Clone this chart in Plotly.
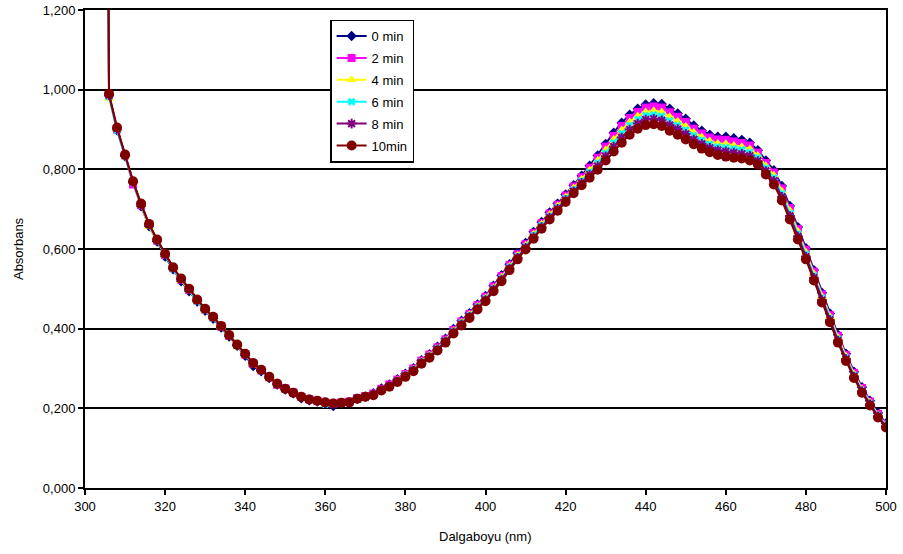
import plotly.graph_objects as go

wavelength = [304] + list(range(306, 502, 2))

min0 = [5.0,
    0.985, 0.898, 0.833, 0.766, 0.707, 0.657, 0.619, 0.581, 0.549, 0.519,
    0.494, 0.468, 0.445, 0.425, 0.403, 0.380, 0.357, 0.332, 0.306, 0.293,
    0.276, 0.260, 0.247, 0.238, 0.225, 0.220, 0.217, 0.213, 0.206, 0.213,
    0.215, 0.224, 0.230, 0.238, 0.250, 0.260, 0.273, 0.287, 0.301, 0.321,
    0.336, 0.355, 0.375, 0.399, 0.420, 0.439, 0.461, 0.482, 0.508, 0.534,
    0.562, 0.590, 0.615, 0.643, 0.668, 0.692, 0.714, 0.737, 0.760, 0.784,
    0.809, 0.835, 0.864, 0.892, 0.917, 0.937, 0.952, 0.963, 0.966, 0.964,
    0.952, 0.940, 0.927, 0.910, 0.897, 0.887, 0.882, 0.882, 0.878, 0.874,
    0.867, 0.848, 0.822, 0.798, 0.758, 0.708, 0.655, 0.602, 0.547, 0.490,
    0.438, 0.385, 0.337, 0.292, 0.253, 0.219, 0.188, 0.162]

min2 = [5.0,
    0.986, 0.900, 0.835, 0.762, 0.710, 0.661, 0.621, 0.585, 0.552, 0.523,
    0.497, 0.471, 0.448, 0.428, 0.405, 0.382, 0.359, 0.335, 0.312, 0.295,
    0.278, 0.259, 0.250, 0.240, 0.229, 0.223, 0.219, 0.213, 0.212, 0.215,
    0.217, 0.226, 0.231, 0.237, 0.249, 0.260, 0.272, 0.286, 0.300, 0.320,
    0.335, 0.353, 0.373, 0.397, 0.418, 0.437, 0.459, 0.480, 0.506, 0.532,
    0.560, 0.587, 0.612, 0.640, 0.665, 0.689, 0.711, 0.734, 0.757, 0.780,
    0.804, 0.829, 0.857, 0.884, 0.909, 0.929, 0.944, 0.955, 0.958, 0.955,
    0.943, 0.932, 0.919, 0.902, 0.890, 0.880, 0.875, 0.874, 0.870, 0.866,
    0.860, 0.842, 0.816, 0.792, 0.752, 0.703, 0.650, 0.598, 0.543, 0.486,
    0.434, 0.382, 0.334, 0.289, 0.251, 0.217, 0.186, 0.160]

min4 = [5.0,
    0.978, 0.901, 0.832, 0.768, 0.709, 0.656, 0.620, 0.584, 0.551, 0.521,
    0.496, 0.470, 0.446, 0.427, 0.404, 0.381, 0.356, 0.334, 0.311, 0.292,
    0.277, 0.261, 0.249, 0.241, 0.230, 0.224, 0.220, 0.209, 0.213, 0.216,
    0.218, 0.226, 0.231, 0.236, 0.248, 0.258, 0.271, 0.284, 0.298, 0.318,
    0.333, 0.351, 0.371, 0.395, 0.416, 0.435, 0.456, 0.477, 0.503, 0.529,
    0.557, 0.584, 0.609, 0.637, 0.662, 0.686, 0.708, 0.730, 0.753, 0.775,
    0.798, 0.822, 0.849, 0.875, 0.899, 0.919, 0.934, 0.944, 0.947, 0.944,
    0.932, 0.921, 0.908, 0.893, 0.881, 0.871, 0.865, 0.864, 0.860, 0.857,
    0.851, 0.835, 0.809, 0.785, 0.745, 0.696, 0.644, 0.592, 0.538, 0.481,
    0.430, 0.378, 0.331, 0.286, 0.248, 0.215, 0.184, 0.158]

min6 = [5.0,
    0.982, 0.899, 0.834, 0.767, 0.711, 0.660, 0.622, 0.586, 0.550, 0.524,
    0.498, 0.469, 0.447, 0.426, 0.406, 0.383, 0.358, 0.336, 0.313, 0.294,
    0.278, 0.261, 0.248, 0.239, 0.228, 0.222, 0.218, 0.210, 0.211, 0.214,
    0.216, 0.225, 0.230, 0.235, 0.247, 0.257, 0.269, 0.283, 0.297, 0.316,
    0.331, 0.350, 0.370, 0.393, 0.414, 0.433, 0.454, 0.475, 0.500, 0.526,
    0.554, 0.581, 0.606, 0.634, 0.659, 0.682, 0.704, 0.727, 0.749, 0.771,
    0.793, 0.816, 0.841, 0.867, 0.890, 0.910, 0.925, 0.935, 0.937, 0.934,
    0.922, 0.911, 0.899, 0.885, 0.873, 0.863, 0.857, 0.855, 0.852, 0.849,
    0.843, 0.829, 0.803, 0.779, 0.739, 0.690, 0.638, 0.587, 0.533, 0.477,
    0.426, 0.374, 0.327, 0.283, 0.245, 0.213, 0.182, 0.157]

min8 = [5.0,
    0.986, 0.903, 0.836, 0.769, 0.712, 0.662, 0.623, 0.587, 0.553, 0.525,
    0.499, 0.472, 0.449, 0.429, 0.406, 0.383, 0.359, 0.336, 0.313, 0.296,
    0.279, 0.262, 0.249, 0.239, 0.229, 0.222, 0.219, 0.214, 0.212, 0.214,
    0.215, 0.224, 0.229, 0.234, 0.246, 0.256, 0.268, 0.281, 0.295, 0.314,
    0.329, 0.348, 0.368, 0.391, 0.411, 0.430, 0.451, 0.472, 0.498, 0.523,
    0.551, 0.578, 0.603, 0.630, 0.655, 0.679, 0.701, 0.723, 0.745, 0.766,
    0.787, 0.808, 0.833, 0.857, 0.880, 0.900, 0.915, 0.925, 0.927, 0.923,
    0.911, 0.901, 0.889, 0.875, 0.864, 0.854, 0.848, 0.845, 0.842, 0.839,
    0.834, 0.821, 0.796, 0.771, 0.731, 0.683, 0.632, 0.581, 0.528, 0.472,
    0.422, 0.370, 0.324, 0.280, 0.243, 0.210, 0.180, 0.155]

min10 = [5.0,
    0.990, 0.905, 0.837, 0.770, 0.714, 0.663, 0.624, 0.588, 0.554, 0.526,
    0.500, 0.473, 0.450, 0.430, 0.407, 0.384, 0.360, 0.337, 0.314, 0.297,
    0.279, 0.262, 0.249, 0.239, 0.229, 0.222, 0.219, 0.215, 0.212, 0.214,
    0.215, 0.224, 0.229, 0.233, 0.245, 0.254, 0.266, 0.279, 0.293, 0.312,
    0.327, 0.345, 0.365, 0.388, 0.408, 0.427, 0.448, 0.469, 0.494, 0.519,
    0.547, 0.574, 0.599, 0.626, 0.651, 0.674, 0.696, 0.718, 0.740, 0.760,
    0.779, 0.799, 0.822, 0.845, 0.867, 0.887, 0.902, 0.911, 0.913, 0.909,
    0.897, 0.887, 0.875, 0.863, 0.852, 0.843, 0.836, 0.832, 0.829, 0.827,
    0.822, 0.812, 0.787, 0.762, 0.722, 0.674, 0.624, 0.574, 0.521, 0.466,
    0.416, 0.365, 0.319, 0.276, 0.239, 0.207, 0.177, 0.152]

series_names = ["0 min", "2 min", "4 min", "6 min", "8 min", "10min"]
series_values = [min0, min2, min4, min6, min8, min10]
colors = ["#000080", "#FF00FF", "#FFFF00", "#00FFFF", "#800080", "#800000"]
symbols = ["diamond", "square", "triangle-up", "x", "asterisk-open", "circle"]
sizes = [8, 8, 9, 7, 8, 10]

yticks = [0, 0.2, 0.4, 0.6, 0.8, 1.0, 1.2]
xticks = [300, 320, 340, 360, 380, 400, 420, 440, 460, 480, 500]

fig = go.Figure()
for i, (name, vals, c, s, sz) in enumerate(zip(series_names, series_values, colors, symbols, sizes)):
    marker = dict(color=c, symbol=s, size=sz, line=dict(width=0, color=c))
    if s == "asterisk-open":
        marker["line"] = dict(width=2, color=c)
    fig.add_trace(go.Scatter(
        x=wavelength, y=vals, name=name, mode="lines+markers",
        legendgroup=f"g{i}",
        line=dict(color=c, width=2), marker=marker,
    ))

font_family = "Liberation Sans, Arial, sans-serif"
fig.update_layout(
    width=903, height=554,
    margin=dict(l=85, r=17, t=10, b=66, autoexpand=False),
    paper_bgcolor="white", plot_bgcolor="white",
    separators=",.",
    font=dict(family=font_family, size=13, color="black"),
    showlegend=True,
    legend=dict(x=0.306, y=0.98, xanchor="left", yanchor="top",
                bgcolor="white", bordercolor="black", borderwidth=1.5,
                font=dict(size=13), tracegroupgap=2),
    xaxis=dict(range=[300, 500], tickvals=xticks, ticks="outside", ticklen=5,
               tickcolor="black", tickwidth=2, showline=True, linecolor="black",
               linewidth=2, mirror=True, showgrid=False, zeroline=False,
               automargin=False, tickfont=dict(size=13)),
    yaxis=dict(range=[0, 1.2], tickvals=yticks, tickformat=".3f", ticks="outside",
               ticklen=5, tickcolor="black", tickwidth=2, showline=True,
               linecolor="black", linewidth=2, mirror=True, showgrid=True,
               gridcolor="black", gridwidth=1.5, zeroline=False,
               automargin=False, tickfont=dict(size=13)),
    annotations=[
        dict(text="Absorbans", xref="paper", yref="paper", x=-0.0836, y=0.5,
             xanchor="center", yanchor="middle", textangle=-90, showarrow=False,
             font=dict(size=13)),
        dict(text="Dalgaboyu (nm)", xref="paper", yref="paper", x=0.5, y=-0.1025,
             xanchor="center", yanchor="middle", showarrow=False,
             font=dict(size=13)),
    ],
)

fig.write_html("out.html")
